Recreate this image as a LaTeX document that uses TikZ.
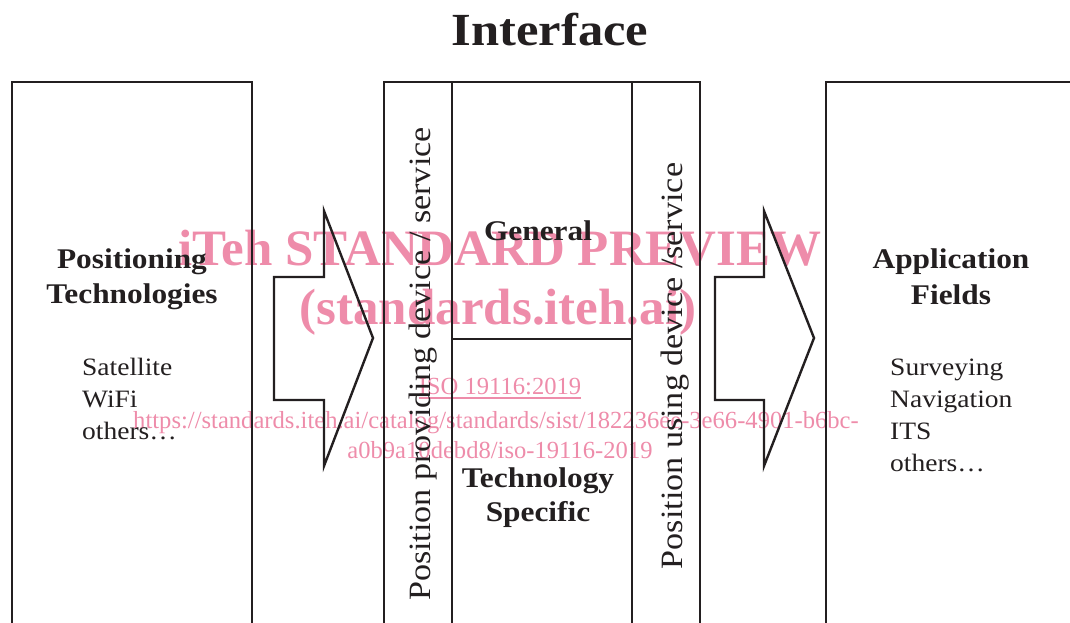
\documentclass[tikz,border=0pt]{standalone}
\usepackage{fontspec}
\setmainfont{Liberation Serif}
\newfontfamily\cam{Liberation Serif}[FakeStretch=1.1]
\newfontfamily\wmf{Liberation Serif}
\usetikzlibrary{calc}
\definecolor{ink}{HTML}{231F20}
\definecolor{wmpink}{RGB}{238,140,170}
\begin{document}
\begin{tikzpicture}[x=1pt,y=-1pt,
 box/.style={draw=ink, line width=2.4pt, anchor=north west, inner sep=0pt, outer sep=0pt},
 boldlbl/.style={font=\cam\bfseries\fontsize{28.5}{35}\selectfont, text=ink, inner sep=0pt, anchor=base},
 plainlbl/.style={font=\cam\fontsize{25}{32}\selectfont, text=ink, inner sep=0pt, anchor=base west},
 vertlbl/.style={font=\cam\fontsize{31}{36}\selectfont, text=ink, rotate=90, inner sep=0pt, anchor=base},
 bigarrow/.style={draw=ink, line width=2.4pt, line join=miter},
 wmbig/.style={font=\wmf\bfseries\fontsize{51}{56}\selectfont, text=wmpink, inner sep=0pt, anchor=base},
 wmsmall/.style={font=\wmf\fontsize{24.6}{30}\selectfont, text=wmpink, inner sep=0pt, anchor=base}
]
\useasboundingbox (0,0) rectangle (1070,623);
\clip (0,0) rectangle (1070,623);

% watermark (underneath)
\node[wmbig] (wm1) at (500,265) {iTeh STANDARD PREVIEW};
\node[wmbig] (wm2) at (498,324) {(standards.iteh.ai)};
\node[wmsmall] (wm3) at (500,394) {ISO 19116:2019};
\draw[wmpink, line width=1.1pt] ([yshift=-4pt]wm3.base west) -- ([yshift=-4pt]wm3.base east);
\node[wmsmall] (wm4) at (496,428) {https://standards.iteh.ai/catalog/standards/sist/182236ee-3e66-4901-b6bc-};
\node[wmsmall] (wm5) at (500,458) {a0b9a10debd8/iso-19116-2019};

% title
\node[font=\cam\bfseries\fontsize{46}{50}\selectfont, text=ink, inner sep=0pt, anchor=base] (title) at (550,46) {Interface};

% boxes
\node[box, minimum width=240pt, minimum height=600pt] (lbox) at (12,82) {};
\node[box, minimum width=68pt, minimum height=600pt] (pstrip) at (384,82) {};
\node[box, minimum width=180pt, minimum height=257pt] (gen) at (452,82) {};
\node[box, minimum width=180pt, minimum height=400pt] (tech) at (452,339) {};
\node[box, minimum width=68pt, minimum height=600pt] (ustrip) at (632,82) {};
\node[box, minimum width=300pt, minimum height=600pt] (rbox) at (826,82) {};

% arrows
\draw[bigarrow] (274,277) coordinate (la1) -- (324,277) -- (324,211) -- (373,338) coordinate (latip) -- (324,466) -- (324,400) -- (274,400) -- cycle;
\draw[bigarrow] (715,277) coordinate (ra1) -- (764,277) -- (764,211) -- (814,338) coordinate (ratip) -- (764,466) -- (764,400) -- (715,400) -- cycle;

% left box text
\node[boldlbl] (pos1) at (132,268) {Positioning};
\node[boldlbl] (pos2) at (132,303) {Technologies};
\node[plainlbl] (sat) at (82,375) {Satellite};
\node[plainlbl] (wifi) at (82,407) {WiFi};
\node[plainlbl] (oth1) at (82,439) {others\dots};

% middle
\node[vertlbl] (ppd) at (430,364) {Position providing device / service};
\node[boldlbl] (genl) at (538,240) {General};
\node[boldlbl] (tech1) at (538,487) {Technology};
\node[boldlbl] (tech2) at (538,521) {Specific};
\node[vertlbl] (pud) at (682,366) {Position using device /service};

% right box text
\node[boldlbl] (app1) at (951,268) {Application};
\node[boldlbl] (app2) at (951,304) {Fields};
\node[plainlbl] (surv) at (890,375) {Surveying};
\node[plainlbl] (navi) at (890,407) {Navigation};
\node[plainlbl] (its) at (890,439) {ITS};
\node[plainlbl] (oth2) at (890,471) {others\dots};
\end{tikzpicture}
\end{document}
